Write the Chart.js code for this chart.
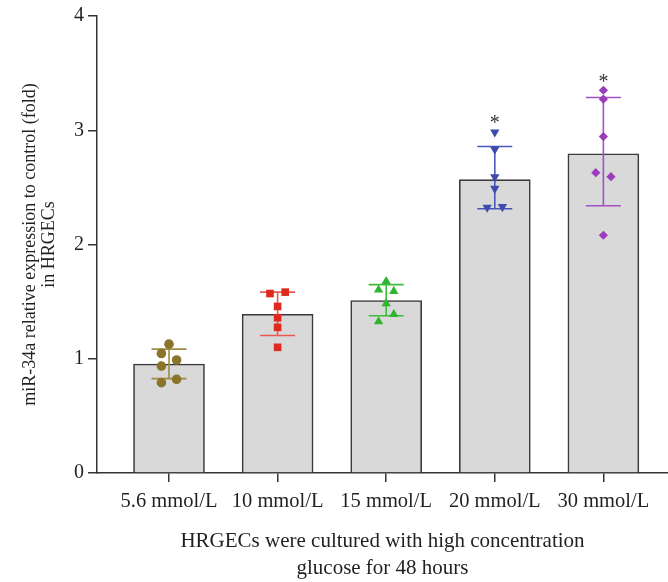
<!DOCTYPE html>
<html>
<head>
<meta charset="utf-8">
<script src="https://cdn.jsdelivr.net/npm/chart.js@4.4.1/dist/chart.umd.min.js"></script>
<style>
  html, body { margin: 0; padding: 0; background: #fff; }
</style>
</head>
<body>
<canvas id="chart" width="668" height="582"></canvas>
<script>
// categories and summary values
const categories = ["5.6 mmol/L", "10 mmol/L", "15 mmol/L", "20 mmol/L", "30 mmol/L"];
const barMeans = [0.954, 1.389, 1.51, 2.568, 2.794];
const errLow = [0.826, 1.203, 1.377, 2.313, 2.339];
const errHigh = [1.084, 1.583, 1.649, 2.858, 3.287];
const significance = ["", "", "", "*", "*"];

// individual replicate values per group, and which side of the centre each sits on
const points56 = [1.128, 1.046, 0.989, 0.936, 0.82, 0.791];
const points10 = [1.571, 1.583, 1.458, 1.359, 1.275, 1.10];
const points15 = [1.678, 1.603, 1.591, 1.484, 1.389, 1.325];
const points20 = [2.983, 2.832, 2.591, 2.49, 2.325, 2.33];
const points30 = [3.35, 3.272, 2.945, 2.629, 2.594, 2.081];
const sides56 = [0, -1, 1, -1, 1, -1];
const sides10 = [-1, 1, 0, 0, 0, 0];
const sides15 = [0, -1, 1, 0, 1, -1];
const sides20 = [0, 0, 0, 0, -1, 1];
const sides30 = [0, 0, 0, -1, 1, 0];

const serif = '"Liberation Serif", "DejaVu Serif", serif';
const textColor = "#231f20";
const axisColor = "#333333";
const spread = 0.07; // horizontal jitter, in category units

const groups = [
  { pts: points56, sides: sides56, color: "#8a7429", line: "#9c8a45", style: "circle", r: 4.8 },
  { pts: points10, sides: sides10, color: "#df2a1f", line: "#e85a50", style: "rect", r: 5.4 },
  { pts: points15, sides: sides15, color: "#2fb52f", line: "#3cbe3c", style: "triangle", r: 5.4 },
  { pts: points20, sides: sides20, color: "#3e4bae", line: "#4a57b6", style: "triangle", r: 5.4, rot: 180 },
  { pts: points30, sides: sides30, color: "#9c3bbd", line: "#a550c4", style: "rectRot", r: 4.6 },
];

const scatterSets = groups.map((g, i) => ({
  type: "scatter",
  data: g.pts.map((v, j) => ({ x: i + g.sides[j] * spread, y: v })),
  backgroundColor: g.color,
  borderColor: g.color,
  borderWidth: 0,
  pointStyle: g.style,
  pointRadius: g.r,
  pointRotation: g.rot || 0,
  order: 0,
}));

// error bars (mean +/- SD) and significance marks drawn with the chart's scales
const errorBarPlugin = {
  id: "errorBars",
  afterDatasetDraw(chart, args) {
    if (args.meta.type !== "bar") return;
    const { ctx, scales: { x, y } } = chart;
    ctx.save();
    ctx.lineWidth = 1.6;
    groups.forEach((g, i) => {
      const cx = x.getPixelForValue(i);
      const yl = y.getPixelForValue(errLow[i]);
      const yh = y.getPixelForValue(errHigh[i]);
      ctx.strokeStyle = g.line;
      ctx.beginPath();
      ctx.moveTo(cx, yl); ctx.lineTo(cx, yh);
      ctx.moveTo(cx - 17.5, yh); ctx.lineTo(cx + 17.5, yh);
      ctx.moveTo(cx - 17.5, yl); ctx.lineTo(cx + 17.5, yl);
      ctx.stroke();
    });
    ctx.restore();
  },
  afterDatasetsDraw(chart) {
    const { ctx, scales: { x, y } } = chart;
    ctx.save();
    ctx.fillStyle = "#333";
    ctx.font = "20px " + serif;
    ctx.textAlign = "center";
    ctx.textBaseline = "middle";
    significance.forEach((s, i) => {
      if (!s) return;
      const top = Math.max(errHigh[i], ...groups[i].pts);
      ctx.fillText(s, x.getPixelForValue(i), y.getPixelForValue(top) - 8);
    });
    ctx.restore();
  },
};

new Chart(document.getElementById("chart").getContext("2d"), {
  data: {
    datasets: [
      ...scatterSets,
      {
        type: "bar",
        data: barMeans.map((v, i) => ({ x: i, y: v })),
        backgroundColor: "#d9d9d9",
        borderColor: "#3a3a3a",
        borderWidth: 1.6,
        barThickness: 71,
        order: 2,
      },
    ],
  },
  options: {
    responsive: false,
    animation: false,
    devicePixelRatio: 1,
    layout: { autoPadding: false, padding: { top: 13, right: 0, bottom: 0, left: 0 } },
    plugins: { legend: { display: false }, tooltip: { enabled: false } },
    scales: {
      x: {
        type: "linear",
        offset: false,
        min: -0.663,
        max: 4.595,
        afterBuildTicks: (scale) => {
          scale.ticks = categories.map((_, i) => ({ value: i }));
        },
        afterFit: (scale) => {
          scale.height = 109;
          scale.paddingLeft = 0;
          scale.paddingRight = 0;
        },
        ticks: {
          callback: (v) => categories[v],
          color: textColor,
          font: { family: serif, size: 20.5 },
          padding: 7,
          maxRotation: 0,
          autoSkip: false,
        },
        grid: { offset: false, drawOnChartArea: false, drawTicks: true, tickLength: 9, color: axisColor, lineWidth: 1.5 },
        border: { color: axisColor, width: 1.5 },
        title: {
          display: true,
          text: ["HRGECs were cultured with high concentration", "glucose for 48 hours"],
          color: textColor,
          font: { family: serif, size: 21, lineHeight: 1.29 },
          padding: { top: 0, bottom: 0 },
        },
      },
      y: {
        min: 0,
        max: 4,
        afterFit: (scale) => { scale.width = 97; },
        ticks: {
          stepSize: 1,
          color: textColor,
          font: { family: serif, size: 20 },
          padding: 4,
        },
        grid: { drawOnChartArea: false, drawTicks: true, tickLength: 9, color: axisColor, lineWidth: 1.5 },
        border: { color: axisColor, width: 1.5 },
        title: {
          display: true,
          text: ["miR-34a relative expression to control (fold)", "in HRGECs"],
          color: textColor,
          font: { family: serif, size: 18, lineHeight: 1.1 },
          padding: { top: 20, bottom: 0 },
        },
      },
    },
  },
  plugins: [errorBarPlugin],
});
</script>
</body>
</html>
